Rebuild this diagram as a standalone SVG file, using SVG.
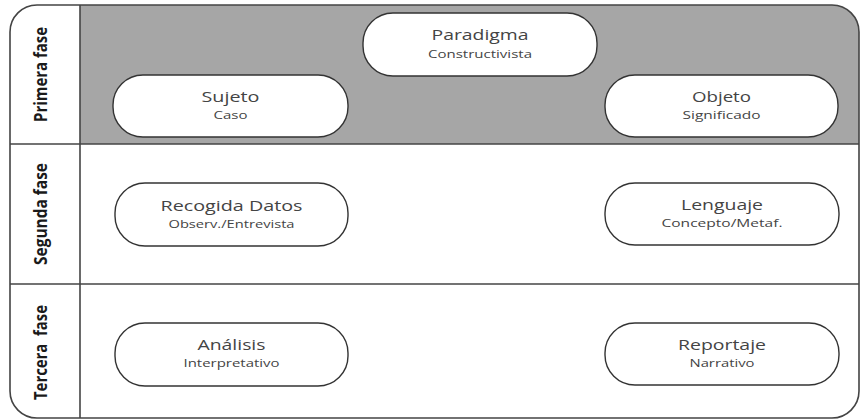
<svg xmlns="http://www.w3.org/2000/svg" width="861" height="420" viewBox="0 0 861 420">
<style>
.node rect{fill:#fff;stroke:#333;stroke-width:1.4}
.t{font-family:"Open Sans","Liberation Sans",sans-serif;font-size:15px;fill:#444;text-anchor:middle}
.s{font-family:"Open Sans","Liberation Sans",sans-serif;font-size:11px;fill:#444;text-anchor:middle}
.lab{font-family:"Open Sans","Liberation Sans",sans-serif;font-size:17px;font-weight:bold;fill:#1a1a1a;text-anchor:middle;white-space:pre}
.grid{stroke:#444;stroke-width:1.6;fill:none}
</style>
<defs>
<clipPath id="outer"><rect x="10" y="5" width="849" height="413" rx="27"/></clipPath>
</defs>
<rect x="10" y="5" width="849" height="413" rx="27" fill="#fff"/>
<rect x="80" y="5" width="780" height="139" fill="#a6a6a6" clip-path="url(#outer)"/>
<g id="grid" class="grid">
<line x1="80" y1="5" x2="80" y2="418"/>
<line x1="10" y1="144" x2="859" y2="144"/>
<line x1="10" y1="284" x2="859" y2="284"/>
<rect x="10" y="5" width="849" height="413" rx="27"/>
</g>
<g id="labels">
<text class="lab" transform="translate(47,74.5) rotate(-90)" textLength="95" lengthAdjust="spacingAndGlyphs">Primera fase</text>
<text class="lab" transform="translate(47,214) rotate(-90)" textLength="102" lengthAdjust="spacingAndGlyphs">Segunda fase</text>
<text class="lab" transform="translate(47,352.5) rotate(-90)" textLength="95" lengthAdjust="spacingAndGlyphs">Tercera  fase</text>
</g>
<g id="paradigma" class="node">
<rect x="363" y="13" width="234" height="63" rx="30"/>
<text class="t" x="480" y="40" textLength="97" lengthAdjust="spacingAndGlyphs">Paradigma</text>
<text class="s" x="480" y="58" textLength="104" lengthAdjust="spacingAndGlyphs">Constructivista</text>
</g>
<g id="sujeto" class="node">
<rect x="113" y="75" width="235" height="62" rx="30"/>
<text class="t" x="230.5" y="102" textLength="58" lengthAdjust="spacingAndGlyphs">Sujeto</text>
<text class="s" x="230.5" y="119" textLength="34" lengthAdjust="spacingAndGlyphs">Caso</text>
</g>
<g id="objeto" class="node">
<rect x="605" y="75" width="233" height="62" rx="30"/>
<text class="t" x="721.5" y="102" textLength="59" lengthAdjust="spacingAndGlyphs">Objeto</text>
<text class="s" x="721.5" y="119" textLength="78" lengthAdjust="spacingAndGlyphs">Significado</text>
</g>
<g id="recogida" class="node">
<rect x="115" y="183" width="233" height="63" rx="30"/>
<text class="t" x="231.5" y="211" textLength="142" lengthAdjust="spacingAndGlyphs">Recogida Datos</text>
<text class="s" x="231.5" y="228" textLength="126" lengthAdjust="spacingAndGlyphs">Observ./Entrevista</text>
</g>
<g id="lenguaje" class="node">
<rect x="605" y="183" width="234" height="62" rx="30"/>
<text class="t" x="722" y="210" textLength="82" lengthAdjust="spacingAndGlyphs">Lenguaje</text>
<text class="s" x="722" y="227" textLength="121" lengthAdjust="spacingAndGlyphs">Concepto/Metaf.</text>
</g>
<g id="analisis" class="node">
<rect x="115" y="323" width="233" height="63" rx="30"/>
<text class="t" x="231.5" y="350" textLength="68" lengthAdjust="spacingAndGlyphs">Análisis</text>
<text class="s" x="231.5" y="367" textLength="96" lengthAdjust="spacingAndGlyphs">Interpretativo</text>
</g>
<g id="reportaje" class="node">
<rect x="605" y="323" width="234" height="62" rx="30"/>
<text class="t" x="722" y="350" textLength="88" lengthAdjust="spacingAndGlyphs">Reportaje</text>
<text class="s" x="722" y="367" textLength="65" lengthAdjust="spacingAndGlyphs">Narrativo</text>
</g>
<g id="connectors"/>
</svg>
